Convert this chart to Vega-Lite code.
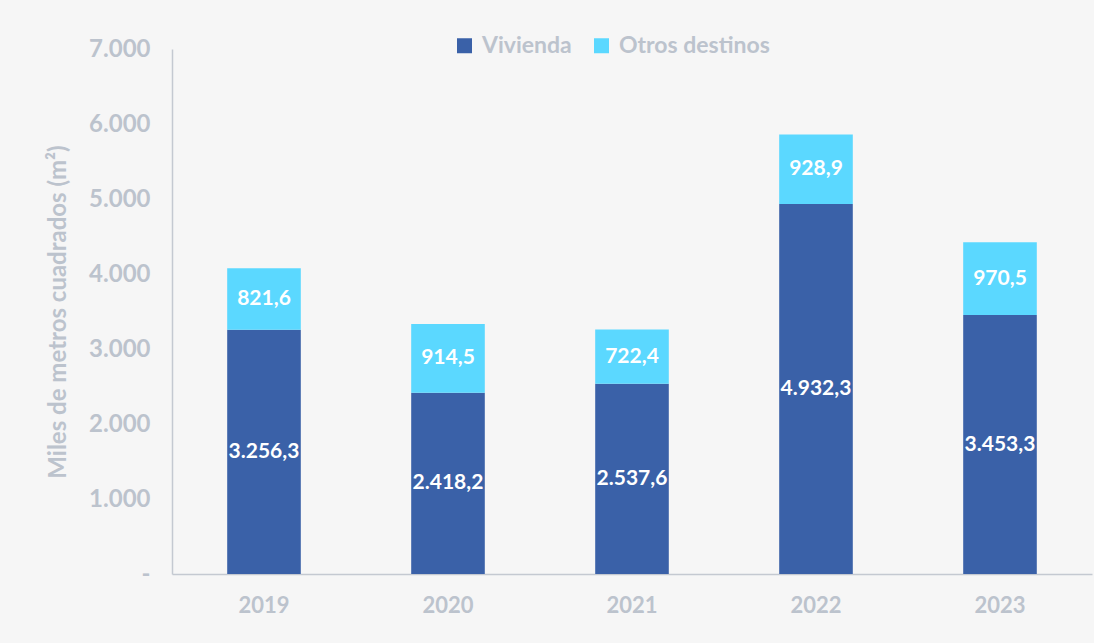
{
  "$schema": "https://vega.github.io/schema/vega-lite/v6.json",
  "width": 920,
  "height": 525,
  "autosize": {"type": "none"},
  "padding": {"left": 172, "top": 49, "right": 2, "bottom": 69},
  "background": "#f6f6f6",
  "config": {
    "locale": {"number": {"decimal": ",", "thousands": ".", "grouping": [3], "currency": ["", " €"]}},
    "view": {"stroke": null},
    "font": "Lato"
  },
  "data": {
    "values": [
      {"year": "2019", "serie": "Vivienda", "value": 3256.3},
      {"year": "2019", "serie": "Otros destinos", "value": 821.6},
      {"year": "2020", "serie": "Vivienda", "value": 2418.2},
      {"year": "2020", "serie": "Otros destinos", "value": 914.5},
      {"year": "2021", "serie": "Vivienda", "value": 2537.6},
      {"year": "2021", "serie": "Otros destinos", "value": 722.4},
      {"year": "2022", "serie": "Vivienda", "value": 4932.3},
      {"year": "2022", "serie": "Otros destinos", "value": 928.9},
      {"year": "2023", "serie": "Vivienda", "value": 3453.3},
      {"year": "2023", "serie": "Otros destinos", "value": 970.5}
    ]
  },
  "transform": [
    {"stack": "value", "groupby": ["year"], "sort": [{"field": "serie", "order": "descending"}], "as": ["v0", "v1"]},
    {"calculate": "(datum.v0 + datum.v1) / 2", "as": "mid"}
  ],
  "encoding": {
    "x": {
      "field": "year", "type": "nominal",
      "scale": {"paddingInner": 0.6, "paddingOuter": 0.3},
      "axis": {
        "title": null, "labelAngle": 0, "ticks": false,
        "labelFontSize": 22, "labelFontWeight": "bold", "labelColor": "#bcc3cd",
        "labelPadding": 21, "domainColor": "#c4c9d1", "domainWidth": 1.5
      }
    }
  },
  "layer": [
    {
      "mark": {"type": "bar"},
      "encoding": {
        "y": {
          "field": "v0", "type": "quantitative",
          "scale": {"domain": [0, 7000], "nice": false},
          "axis": {
            "values": [0, 1000, 2000, 3000, 4000, 5000, 6000, 7000],
            "format": ",.0f",
            "labelExpr": "datum.value == 0 ? '-' : datum.label",
            "grid": false, "ticks": false,
            "labelFontSize": 24, "labelFontWeight": "bold", "labelColor": "#bcc3cd",
            "labelPadding": 22, "domainColor": "#c4c9d1", "domainWidth": 1.5,
            "title": "Miles de metros cuadrados (m²)",
            "titleFontSize": 24, "titleFontWeight": "bold", "titleColor": "#bcc3cd",
            "titlePadding": 18
          }
        },
        "y2": {"field": "v1"},
        "color": {
          "field": "serie", "type": "nominal",
          "scale": {"domain": ["Vivienda", "Otros destinos"], "range": ["#3a61a8", "#5bd8ff"]},
          "legend": {
            "title": null, "orient": "none", "direction": "horizontal",
            "legendX": 281, "legendY": -15,
            "symbolType": "square", "symbolSize": 225, "symbolStrokeWidth": 0, "symbolOpacity": 1,
            "labelFontSize": 23, "labelFontWeight": "bold", "labelColor": "#bcc3cd",
            "labelOffset": 6, "columnPadding": 18
          }
        }
      }
    },
    {
      "mark": {"type": "text", "color": "white", "fontSize": 21, "fontWeight": "bold", "baseline": "middle"},
      "encoding": {
        "y": {"field": "mid", "type": "quantitative"},
        "text": {"field": "value", "type": "quantitative", "format": ",.1f"}
      }
    }
  ]
}
